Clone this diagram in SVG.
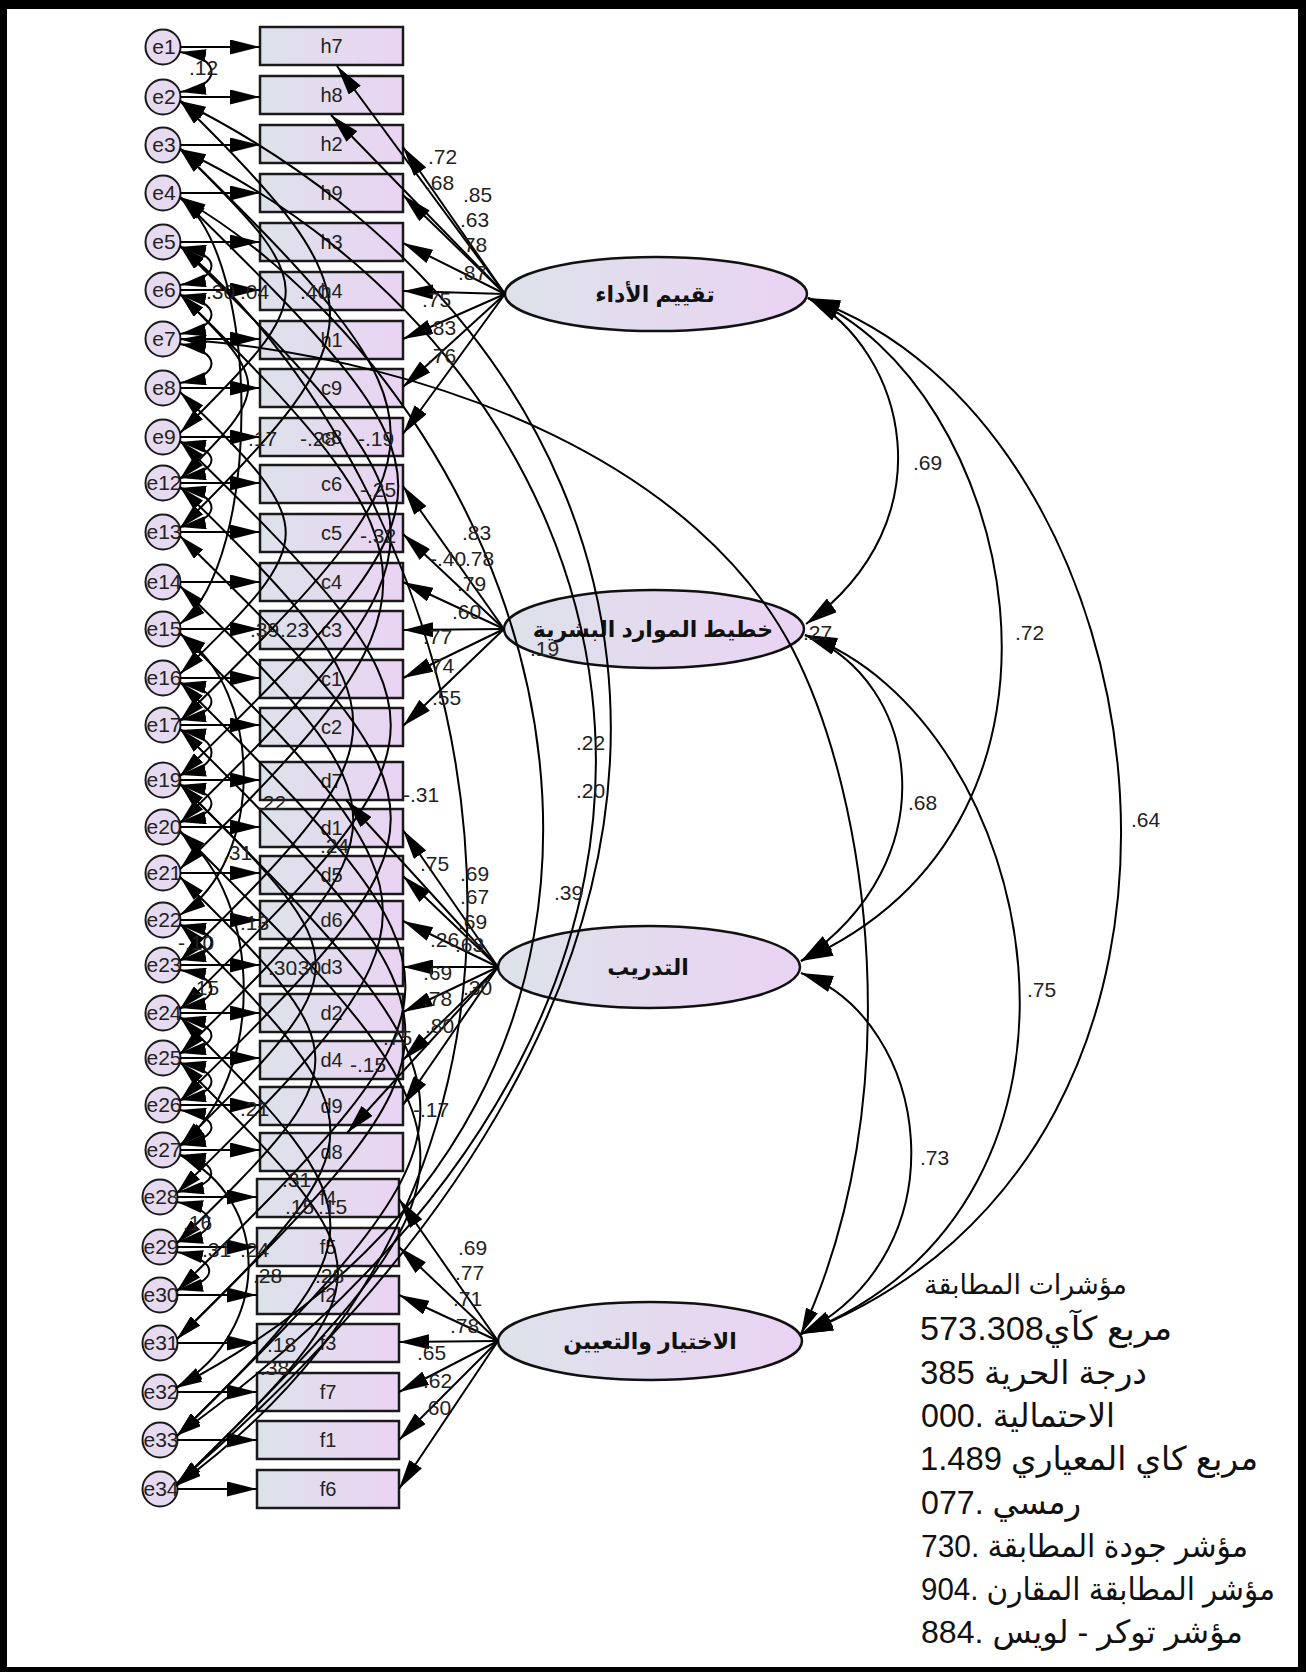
<svg xmlns="http://www.w3.org/2000/svg" width="1306" height="1672" viewBox="0 0 1306 1672">
<style>
.bg{fill:#fff}
.frame{fill:#000}
.obs{fill:url(#gr);stroke:#1a1a1a;stroke-width:2.5}
.lat{fill:url(#gr);stroke:#111;stroke-width:2.5}
.err{fill:#e6daf0;stroke:#1a1a1a;stroke-width:2}
.t{font-family:'Liberation Sans','DejaVu Sans',Arial,sans-serif;fill:#222}
.vl{font-size:20px;text-anchor:middle}
.el{font-size:21px;text-anchor:middle}
.nl{font-size:21px}
.ar{font-family:'Liberation Sans','DejaVu Sans',Arial,sans-serif;font-weight:bold;font-size:22px;text-anchor:middle;fill:#111}
.fit{font-family:'Liberation Sans','DejaVu Sans',Arial,sans-serif;fill:#111;direction:rtl;text-anchor:end;font-size:33px}
.ld{stroke:#000;stroke-width:2;fill:none;marker-end:url(#b)}
.cv{stroke:#000;stroke-width:2;fill:none;marker-start:url(#a);marker-end:url(#a)}
.lc{stroke:#000;stroke-width:2;fill:none;marker-start:url(#c);marker-end:url(#c)}
</style>
<defs>
<linearGradient id="gr" x1="0" y1="0" x2="1" y2="0">
<stop offset="0" stop-color="#dde2ea"/>
<stop offset="1" stop-color="#ead3f3"/>
</linearGradient>
<marker id="a" viewBox="0 0 26 13" refX="26" refY="6.5" markerWidth="26" markerHeight="13" markerUnits="userSpaceOnUse" orient="auto-start-reverse"><path d="M0,0L26,6.5L0,13z" fill="#000"/></marker>
<marker id="b" viewBox="0 0 30 15" refX="30" refY="7.5" markerWidth="30" markerHeight="15" markerUnits="userSpaceOnUse" orient="auto"><path d="M0,0L30,7.5L0,15z" fill="#000"/></marker>
<marker id="c" viewBox="0 0 32 17" refX="32" refY="8.5" markerWidth="32" markerHeight="17" markerUnits="userSpaceOnUse" orient="auto-start-reverse"><path d="M0,0L32,8.5L0,17z" fill="#000"/></marker>
</defs>
<rect class="bg" x="0" y="0" width="1306" height="1672"/>
<g id="frame">
<rect class="frame" x="0" y="0" width="1306" height="9"/>
<rect class="frame" x="0" y="0" width="7" height="1672"/>
<rect class="frame" x="1298" y="0" width="8" height="1672"/>
<rect class="frame" x="0" y="1667" width="1306" height="5"/>
</g>
<g id="observed">
<g id="h7"><rect class="obs" x="260" y="27" width="143" height="38"/><text class="t vl" x="331.5" y="53">h7</text></g>
<g id="h8"><rect class="obs" x="260" y="76" width="143" height="38"/><text class="t vl" x="331.5" y="102">h8</text></g>
<g id="h2"><rect class="obs" x="260" y="125" width="143" height="38"/><text class="t vl" x="331.5" y="151">h2</text></g>
<g id="h9"><rect class="obs" x="260" y="174" width="143" height="38"/><text class="t vl" x="331.5" y="200">h9</text></g>
<g id="h3"><rect class="obs" x="260" y="223" width="143" height="38"/><text class="t vl" x="331.5" y="249">h3</text></g>
<g id="h4"><rect class="obs" x="260" y="272" width="143" height="38"/><text class="t vl" x="331.5" y="298">h4</text></g>
<g id="h1"><rect class="obs" x="260" y="321" width="143" height="38"/><text class="t vl" x="331.5" y="347">h1</text></g>
<g id="c9"><rect class="obs" x="260" y="369" width="143" height="38"/><text class="t vl" x="331.5" y="395">c9</text></g>
<g id="c8"><rect class="obs" x="260" y="418" width="143" height="38"/><text class="t vl" x="331.5" y="444">c8</text></g>
<g id="c6"><rect class="obs" x="260" y="465" width="143" height="38"/><text class="t vl" x="331.5" y="491">c6</text></g>
<g id="c5"><rect class="obs" x="260" y="514" width="143" height="38"/><text class="t vl" x="331.5" y="540">c5</text></g>
<g id="c4"><rect class="obs" x="260" y="563" width="143" height="38"/><text class="t vl" x="331.5" y="589">c4</text></g>
<g id="c3"><rect class="obs" x="260" y="611" width="143" height="38"/><text class="t vl" x="331.5" y="637">c3</text></g>
<g id="c1"><rect class="obs" x="260" y="660" width="143" height="38"/><text class="t vl" x="331.5" y="686">c1</text></g>
<g id="c2"><rect class="obs" x="260" y="708" width="143" height="38"/><text class="t vl" x="331.5" y="734">c2</text></g>
<g id="d7"><rect class="obs" x="260" y="762" width="143" height="38"/><text class="t vl" x="331.5" y="788">d7</text></g>
<g id="d1"><rect class="obs" x="260" y="809" width="143" height="38"/><text class="t vl" x="331.5" y="835">d1</text></g>
<g id="d5"><rect class="obs" x="260" y="856" width="143" height="38"/><text class="t vl" x="331.5" y="882">d5</text></g>
<g id="d6"><rect class="obs" x="260" y="901" width="143" height="38"/><text class="t vl" x="331.5" y="927">d6</text></g>
<g id="d3"><rect class="obs" x="260" y="948" width="143" height="38"/><text class="t vl" x="331.5" y="974">d3</text></g>
<g id="d2"><rect class="obs" x="260" y="994" width="143" height="38"/><text class="t vl" x="331.5" y="1020">d2</text></g>
<g id="d4"><rect class="obs" x="260" y="1041" width="143" height="38"/><text class="t vl" x="331.5" y="1067">d4</text></g>
<g id="d9"><rect class="obs" x="260" y="1087" width="143" height="38"/><text class="t vl" x="331.5" y="1113">d9</text></g>
<g id="d8"><rect class="obs" x="260" y="1133" width="143" height="38"/><text class="t vl" x="331.5" y="1159">d8</text></g>
<g id="f4"><rect class="obs" x="257" y="1179" width="142" height="38"/><text class="t vl" x="328" y="1205">f4</text></g>
<g id="f5"><rect class="obs" x="257" y="1228" width="142" height="38"/><text class="t vl" x="328" y="1254">f5</text></g>
<g id="f2"><rect class="obs" x="257" y="1276" width="142" height="38"/><text class="t vl" x="328" y="1302">f2</text></g>
<g id="f3"><rect class="obs" x="257" y="1324" width="142" height="38"/><text class="t vl" x="328" y="1350">f3</text></g>
<g id="f7"><rect class="obs" x="257" y="1373" width="142" height="38"/><text class="t vl" x="328" y="1399">f7</text></g>
<g id="f1"><rect class="obs" x="257" y="1421" width="142" height="38"/><text class="t vl" x="328" y="1447">f1</text></g>
<g id="f6"><rect class="obs" x="257" y="1470" width="142" height="38"/><text class="t vl" x="328" y="1496">f6</text></g>
</g>
<g id="errors">
<g id="e1"><circle class="err" cx="163" cy="47" r="17.5"/><text class="t el" x="164" y="54">e1</text></g>
<g id="e2"><circle class="err" cx="163" cy="97" r="17.5"/><text class="t el" x="164" y="104">e2</text></g>
<g id="e3"><circle class="err" cx="163" cy="145" r="17.5"/><text class="t el" x="164" y="152">e3</text></g>
<g id="e4"><circle class="err" cx="163" cy="193" r="17.5"/><text class="t el" x="164" y="200">e4</text></g>
<g id="e5"><circle class="err" cx="163" cy="242" r="17.5"/><text class="t el" x="164" y="249">e5</text></g>
<g id="e6"><circle class="err" cx="163" cy="290" r="17.5"/><text class="t el" x="164" y="297">e6</text></g>
<g id="e7"><circle class="err" cx="163" cy="339" r="17.5"/><text class="t el" x="164" y="346">e7</text></g>
<g id="e8"><circle class="err" cx="163" cy="388" r="17.5"/><text class="t el" x="164" y="395">e8</text></g>
<g id="e9"><circle class="err" cx="163" cy="437" r="17.5"/><text class="t el" x="164" y="444">e9</text></g>
<g id="e12"><circle class="err" cx="163" cy="483" r="17.5"/><text class="t el" x="164" y="490">e12</text></g>
<g id="e13"><circle class="err" cx="163" cy="532" r="17.5"/><text class="t el" x="164" y="539">e13</text></g>
<g id="e14"><circle class="err" cx="163" cy="582" r="17.5"/><text class="t el" x="164" y="589">e14</text></g>
<g id="e15"><circle class="err" cx="163" cy="629" r="17.5"/><text class="t el" x="164" y="636">e15</text></g>
<g id="e16"><circle class="err" cx="163" cy="678" r="17.5"/><text class="t el" x="164" y="685">e16</text></g>
<g id="e17"><circle class="err" cx="163" cy="725" r="17.5"/><text class="t el" x="164" y="732">e17</text></g>
<g id="e19"><circle class="err" cx="163" cy="780" r="17.5"/><text class="t el" x="164" y="787">e19</text></g>
<g id="e20"><circle class="err" cx="163" cy="827" r="17.5"/><text class="t el" x="164" y="834">e20</text></g>
<g id="e21"><circle class="err" cx="163" cy="873" r="17.5"/><text class="t el" x="164" y="880">e21</text></g>
<g id="e22"><circle class="err" cx="163" cy="920" r="17.5"/><text class="t el" x="164" y="927">e22</text></g>
<g id="e23"><circle class="err" cx="163" cy="965" r="17.5"/><text class="t el" x="164" y="972">e23</text></g>
<g id="e24"><circle class="err" cx="163" cy="1013" r="17.5"/><text class="t el" x="164" y="1020">e24</text></g>
<g id="e25"><circle class="err" cx="163" cy="1058" r="17.5"/><text class="t el" x="164" y="1065">e25</text></g>
<g id="e26"><circle class="err" cx="163" cy="1105" r="17.5"/><text class="t el" x="164" y="1112">e26</text></g>
<g id="e27"><circle class="err" cx="163" cy="1150" r="17.5"/><text class="t el" x="164" y="1157">e27</text></g>
<g id="e28"><circle class="err" cx="160" cy="1197" r="17.5"/><text class="t el" x="161" y="1204">e28</text></g>
<g id="e29"><circle class="err" cx="160" cy="1247" r="17.5"/><text class="t el" x="161" y="1254">e29</text></g>
<g id="e30"><circle class="err" cx="160" cy="1295" r="17.5"/><text class="t el" x="161" y="1302">e30</text></g>
<g id="e31"><circle class="err" cx="160" cy="1343" r="17.5"/><text class="t el" x="161" y="1350">e31</text></g>
<g id="e32"><circle class="err" cx="160" cy="1392" r="17.5"/><text class="t el" x="161" y="1399">e32</text></g>
<g id="e33"><circle class="err" cx="160" cy="1440" r="17.5"/><text class="t el" x="161" y="1447">e33</text></g>
<g id="e34"><circle class="err" cx="160" cy="1489" r="17.5"/><text class="t el" x="161" y="1496">e34</text></g>
</g>
<g id="latents">
<g id="F1"><ellipse class="lat" cx="656" cy="294" rx="151" ry="37"/><text class="ar" x="655" y="302">تقييم الأداء</text></g>
<g id="F2"><ellipse class="lat" cx="654" cy="629" rx="150" ry="39"/><text class="ar" x="653" y="637">خطيط الموارد البشرية</text></g>
<g id="F3"><ellipse class="lat" cx="649" cy="967" rx="151" ry="41"/><text class="ar" x="648" y="975">التدريب</text></g>
<g id="F4"><ellipse class="lat" cx="650" cy="1341" rx="152" ry="39"/><text class="ar" x="650" y="1349">الاختيار والتعيين</text></g>
</g>
<g id="connectors">
<line class="ld" x1="180" y1="47" x2="260" y2="47"/>
<line class="ld" x1="180" y1="97" x2="260" y2="97"/>
<line class="ld" x1="180" y1="145" x2="260" y2="145"/>
<line class="ld" x1="180" y1="193" x2="260" y2="193"/>
<line class="ld" x1="180" y1="242" x2="260" y2="242"/>
<line class="ld" x1="180" y1="290" x2="260" y2="290"/>
<line class="ld" x1="180" y1="339" x2="260" y2="339"/>
<line class="ld" x1="180" y1="388" x2="260" y2="388"/>
<line class="ld" x1="180" y1="437" x2="260" y2="437"/>
<line class="ld" x1="180" y1="483" x2="260" y2="483"/>
<line class="ld" x1="180" y1="532" x2="260" y2="532"/>
<line class="ld" x1="180" y1="582" x2="260" y2="582"/>
<line class="ld" x1="180" y1="629" x2="260" y2="629"/>
<line class="ld" x1="180" y1="678" x2="260" y2="678"/>
<line class="ld" x1="180" y1="725" x2="260" y2="725"/>
<line class="ld" x1="180" y1="780" x2="260" y2="780"/>
<line class="ld" x1="180" y1="827" x2="260" y2="827"/>
<line class="ld" x1="180" y1="873" x2="260" y2="873"/>
<line class="ld" x1="180" y1="920" x2="260" y2="920"/>
<line class="ld" x1="180" y1="965" x2="260" y2="965"/>
<line class="ld" x1="180" y1="1013" x2="260" y2="1013"/>
<line class="ld" x1="180" y1="1058" x2="260" y2="1058"/>
<line class="ld" x1="180" y1="1105" x2="260" y2="1105"/>
<line class="ld" x1="180" y1="1150" x2="260" y2="1150"/>
<line class="ld" x1="177" y1="1197" x2="257" y2="1197"/>
<line class="ld" x1="177" y1="1247" x2="257" y2="1247"/>
<line class="ld" x1="177" y1="1295" x2="257" y2="1295"/>
<line class="ld" x1="177" y1="1343" x2="257" y2="1343"/>
<line class="ld" x1="177" y1="1392" x2="257" y2="1392"/>
<line class="ld" x1="177" y1="1440" x2="257" y2="1440"/>
<line class="ld" x1="177" y1="1489" x2="257" y2="1489"/>
<line class="ld" x1="505" y1="294" x2="337" y2="66"/>
<line class="ld" x1="505" y1="294" x2="331" y2="115"/>
<line class="ld" x1="505" y1="294" x2="403" y2="147"/>
<line class="ld" x1="505" y1="294" x2="403" y2="195"/>
<line class="ld" x1="505" y1="294" x2="403" y2="243"/>
<line class="ld" x1="505" y1="294" x2="403" y2="291"/>
<line class="ld" x1="505" y1="294" x2="403" y2="339"/>
<line class="ld" x1="505" y1="294" x2="403" y2="387"/>
<line class="ld" x1="505" y1="294" x2="403" y2="434"/>
<line class="ld" x1="504" y1="629" x2="403" y2="486"/>
<line class="ld" x1="504" y1="629" x2="403" y2="534"/>
<line class="ld" x1="504" y1="629" x2="403" y2="582"/>
<line class="ld" x1="504" y1="629" x2="403" y2="630"/>
<line class="ld" x1="504" y1="629" x2="403" y2="678"/>
<line class="ld" x1="504" y1="629" x2="403" y2="726"/>
<line class="ld" x1="498" y1="967" x2="346" y2="800"/>
<line class="ld" x1="498" y1="967" x2="403" y2="830"/>
<line class="ld" x1="498" y1="967" x2="403" y2="876"/>
<line class="ld" x1="498" y1="967" x2="403" y2="921"/>
<line class="ld" x1="498" y1="967" x2="403" y2="967"/>
<line class="ld" x1="498" y1="967" x2="403" y2="1012"/>
<line class="ld" x1="498" y1="967" x2="403" y2="1060"/>
<line class="ld" x1="498" y1="967" x2="403" y2="1105"/>
<line class="ld" x1="498" y1="967" x2="347" y2="1133"/>
<line class="ld" x1="498" y1="1341" x2="399" y2="1199"/>
<line class="ld" x1="498" y1="1341" x2="399" y2="1247"/>
<line class="ld" x1="498" y1="1341" x2="399" y2="1295"/>
<line class="ld" x1="498" y1="1341" x2="399" y2="1342"/>
<line class="ld" x1="498" y1="1341" x2="399" y2="1392"/>
<line class="ld" x1="498" y1="1341" x2="399" y2="1440"/>
<line class="ld" x1="498" y1="1341" x2="399" y2="1489"/>
<path class="cv" d="M180,52 C222,58 222,86 180,92"/>
<path class="cv" d="M180,247 C222,254 222,278 180,285"/>
<path class="cv" d="M180,295 C222,302 222,327 180,334"/>
<path class="cv" d="M180,344 C222,351 222,376 180,383"/>
<path class="cv" d="M180,442 C222,449 222,471 180,478"/>
<path class="cv" d="M180,488 C222,495 222,520 180,527"/>
<path class="cv" d="M180,683 C222,690 222,713 180,720"/>
<path class="cv" d="M180,730 C222,738 222,767 180,775"/>
<path class="cv" d="M180,785 C222,792 222,815 180,822"/>
<path class="cv" d="M180,925 C222,932 222,953 180,960"/>
<path class="cv" d="M180,970 C222,977 222,1001 180,1008"/>
<path class="cv" d="M180,1018 C222,1025 222,1046 180,1053"/>
<path class="cv" d="M180,1063 C222,1070 222,1093 180,1100"/>
<path class="cv" d="M180,1110 C222,1117 222,1138 180,1145"/>
<path class="cv" d="M180,1155 C222,1162 222,1185 178,1192"/>
<path class="cv" d="M177,1202 C220,1210 220,1234 177,1242"/>
<path class="cv" d="M177,1252 C220,1260 220,1282 177,1290"/>
<path class="cv" d="M180,198 C262,260 262,560 180,624"/>
<path class="cv" d="M180,634 C265,690 265,860 180,915"/>
<path class="cv" d="M180,832 C265,900 265,1080 180,1145"/>
<path class="cv" d="M180,1155 C272,1200 272,1330 177,1387"/>
<path class="cv" d="M180,101 C380,297 380,332 180,528"/>
<path class="cv" d="M180,149 C461,425 461,445 180,721"/>
<path class="cv" d="M180,197 C471,483 471,490 180,776"/>
<path class="cv" d="M180,246 C461,522 461,547 180,823"/>
<path class="cv" d="M180,294 C451,560 451,603 180,869"/>
<path class="cv" d="M180,392 C321,528 321,538 180,674"/>
<path class="cv" d="M180,441 C461,717 461,733 180,1009"/>
<path class="cv" d="M180,487 C411,713 411,735 180,961"/>
<path class="cv" d="M180,536 C461,812 461,825 180,1101"/>
<path class="cv" d="M180,586 C411,812 411,828 180,1054"/>
<path class="cv" d="M180,633 C451,903 451,923 177,1193"/>
<path class="cv" d="M180,682 C481,982 481,991 177,1291"/>
<path class="cv" d="M180,729 C481,1029 481,1039 177,1339"/>
<path class="cv" d="M180,784 C501,1104 501,1116 177,1436"/>
<path class="cv" d="M180,831 C501,1151 501,1165 177,1485"/>
<path class="cv" d="M180,924 C381,1124 381,1139 177,1339"/>
<path class="cv" d="M180,1017 C381,1217 381,1236 177,1436"/>
<path class="cv" d="M180,1062 C391,1272 391,1275 177,1485"/>
<path class="cv" d="M180,877 C361,1057 361,1063 177,1243"/>
<path class="cv" d="M180,149 C321,289 321,293 180,433"/>
<path class="cv" d="M180,294 C271,384 271,389 180,479"/>
<path class="cv" d="M180,784 C361,964 361,966 180,1146"/>
<path class="cv" d="M180,101 C640,330 860,900 176,1484"/>
<path class="cv" d="M180,149 C620,360 840,960 176,1436"/>
<path class="cv" d="M180,197 C560,420 760,1080 176,1388"/>
<path class="cv" d="M180,246 C480,500 640,1150 176,1486"/>
<path class="cv" d="M180,339 C450,360 700,470 793,650 C870,800 910,1100 801,1334"/>
<path class="lc" d="M808,298 C905,350 950,520 806,624"/>
<path class="lc" d="M808,298 C1010,380 1120,820 801,961"/>
<path class="lc" d="M808,298 C1170,420 1280,1150 801,1334"/>
<path class="lc" d="M805,635 C920,680 950,860 801,961"/>
<path class="lc" d="M805,635 C1040,720 1140,1200 801,1334"/>
<path class="lc" d="M801,973 C930,1020 965,1250 801,1334"/>
</g>
<g id="labels" class="t nl">
<text x="189" y="75">.12</text>
<text x="428" y="164">.72</text><text x="425" y="190">.68</text><text x="463" y="202">.85</text><text x="460" y="227">.63</text><text x="458" y="252">.78</text><text x="458" y="280">.87</text><text x="422" y="307">.75</text><text x="427" y="335">.83</text><text x="427" y="363">.76</text>
<text x="462" y="540">.83</text><text x="430" y="566">-.40</text><text x="465" y="566">.78</text><text x="457" y="591">.79</text><text x="452" y="619">.60</text><text x="423" y="644">.77</text><text x="425" y="673">.74</text><text x="432" y="705">.55</text>
<text x="420" y="871">.75</text><text x="460" y="881">.69</text><text x="460" y="904">.67</text><text x="458" y="929">.69</text><text x="430" y="947">.26</text><text x="455" y="952">.63</text><text x="423" y="980">.69</text><text x="463" y="995">.30</text><text x="423" y="1006">.78</text><text x="425" y="1033">.80</text><text x="383" y="1045">.75</text><text x="350" y="1072">-.15</text><text x="413" y="1117">-.17</text>
<text x="458" y="1255">.69</text><text x="455" y="1280">.77</text><text x="453" y="1306">.71</text><text x="450" y="1333">.78</text><text x="417" y="1360">.65</text><text x="423" y="1388">.62</text><text x="422" y="1415">.60</text>
<text x="206" y="299">.30</text><text x="240" y="299">.04</text><text x="300" y="299">.40</text>
<text x="248" y="446">.17</text><text x="300" y="446">-.28</text><text x="358" y="446">-.19</text>
<text x="360" y="497">-.25</text><text x="360" y="543">-.32</text>
<text x="250" y="637">.39</text><text x="280" y="637">.23</text>
<text x="257" y="810">.22</text><text x="403" y="802">-.31</text>
<text x="223" y="860">.31</text><text x="320" y="853">.24</text>
<text x="240" y="930">.13</text><text x="178" y="950">-.10</text>
<text x="268" y="975">.30</text><text x="292" y="975">.30</text>
<text x="190" y="995">.15</text>
<text x="240" y="1116">.21</text><text x="282" y="1187">.31</text>
<text x="285" y="1214">.15</text><text x="318" y="1214">.15</text>
<text x="183" y="1230">.16</text><text x="202" y="1257">.31</text><text x="240" y="1257">.24</text>
<text x="253" y="1283">.28</text><text x="315" y="1283">.28</text>
<text x="267" y="1352">.18</text><text x="260" y="1375">.38</text>
<text x="803" y="640">.27</text><text x="530" y="656">.19</text>
<text x="576" y="750">.22</text><text x="576" y="798">.20</text><text x="554" y="900">.39</text>
<text x="913" y="470">.69</text><text x="1015" y="640">.72</text><text x="908" y="810">.68</text><text x="1131" y="827">.64</text><text x="1027" y="997">.75</text><text x="920" y="1165">.73</text>
</g>
<g id="fit-indices">
<text class="fit" x="924" y="1294" style="font-size:27px" textLength="203" lengthAdjust="spacingAndGlyphs">مؤشرات المطابقة</text>
<text class="fit" x="920" y="1340" textLength="252" lengthAdjust="spacingAndGlyphs">مربع كآي573.308</text>
<text class="fit" x="920" y="1384" textLength="227" lengthAdjust="spacingAndGlyphs">درجة الحرية 385</text>
<text class="fit" x="921" y="1427" textLength="194" lengthAdjust="spacingAndGlyphs">الاحتمالية .000</text>
<text class="fit" x="920" y="1470" textLength="338" lengthAdjust="spacingAndGlyphs">مربع كاي المعياري 1.489</text>
<text class="fit" x="921" y="1514" textLength="160" lengthAdjust="spacingAndGlyphs">رمسي .077</text>
<text class="fit" x="921" y="1557" style="font-size:32px" textLength="327" lengthAdjust="spacingAndGlyphs">مؤشر جودة المطابقة .730</text>
<text class="fit" x="921" y="1600" style="font-size:31px" textLength="354" lengthAdjust="spacingAndGlyphs">مؤشر المطابقة المقارن .904</text>
<text class="fit" x="921" y="1643" style="font-size:32px" textLength="322" lengthAdjust="spacingAndGlyphs">مؤشر توكر - لويس .884</text>
</g>
</svg>
